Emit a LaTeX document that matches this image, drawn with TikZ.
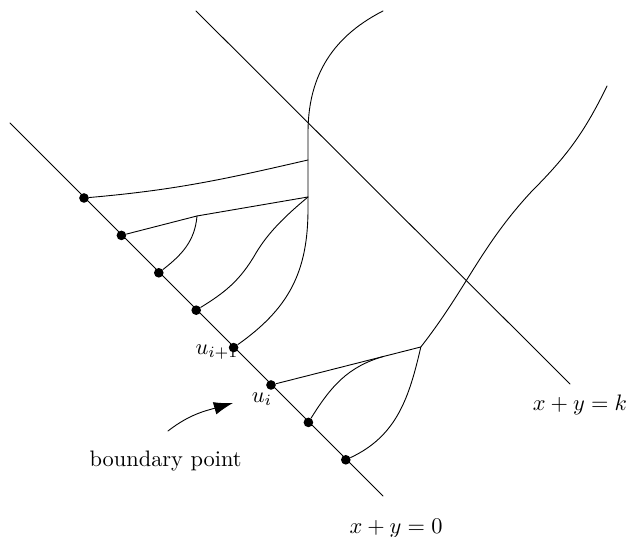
\documentclass[tikz,border=0pt]{standalone}
\usetikzlibrary{arrows.meta,calc}
\begin{document}
\begin{tikzpicture}[scale=0.628, line join=round, line cap=round,
	>={Latex[length=3mm,width=2mm]},
	diem/.style={circle,fill,inner sep=0pt,minimum size=4.3pt}]
	\useasboundingbox (0,0) rectangle (15.7,13.425);
	\def\buoc{0.935} % khoảng cách giữa các điểm biên
	% hai đường thẳng
	\path 
	(0.25,10.35) coordinate (dauO)
	(9.575,1.025) coordinate (cuoiO)
	(4.9,13.15) coordinate (dauK)
	(14.25,3.825) coordinate (cuoiK);
	\draw (dauO)--(cuoiO) (dauK)--(cuoiK);
	% các điểm biên
	\foreach \i in {1,...,8}
	\node[diem] (b\i) at ({2.1+\buoc*(\i-1)},{8.475-\buoc*(\i-1)}) {};
	\path 
	(5.425,4.625) node (nhanA) {$u_{i+1}$}
	(6.55,3.45) node (nhanB) {$u_i$}
	(4.14,1.9) node (nhanC) {boundary point}
	(14.5,3.3) node (nhanK) {$x+y=k$}
	(9.9,0.21) node (nhanO) {$x+y=0$};
	\path 
	(9.575,13.15) coordinate (t0)
	(7.7,9.425) coordinate (t1)
	(7.7,8.5) coordinate (t2)
	(4.925,8.025) coordinate (j1)
	(15.175,11.275) coordinate (r0)
	(13.3,8.65) coordinate (r1)
	(10.52,4.75) coordinate (j2)
	(4.2,2.65) coordinate (muiA)
	(5.825,3.35) coordinate (muiB);
	\coordinate (j3) at ($(b6)!0.75!(j2)$);
	% các đường cong
	\draw (t0) .. controls (8.2,12.45) and (7.7,11.4) .. (7.7,10.1) -- (7.7,8.2) .. controls (7.7,6.6) and (7.2,5.7) .. (b5);
	\draw (b1) to[out=5,in=193] (t1);
	\draw (b2)--(j1)--(t2);
	\draw (b3) to[out=38,in=-95] (j1);
	\draw (b4) .. controls (5.6,6.1) and (6.0,6.4) .. (6.4,7.1) .. controls (6.7,7.6) and (7.1,8.0) .. (t2);
	\draw (r0) to[out=-116,in=45] (r1) to[out=-133,in=52] (j2) to[out=-103,in=25] (b8);
	\draw (b6)--(j2);
	\draw (b7) to[out=58,in=196] (j3);
	\draw[->] (muiA) to[out=38,in=196] (muiB);
\end{tikzpicture}
\end{document}
